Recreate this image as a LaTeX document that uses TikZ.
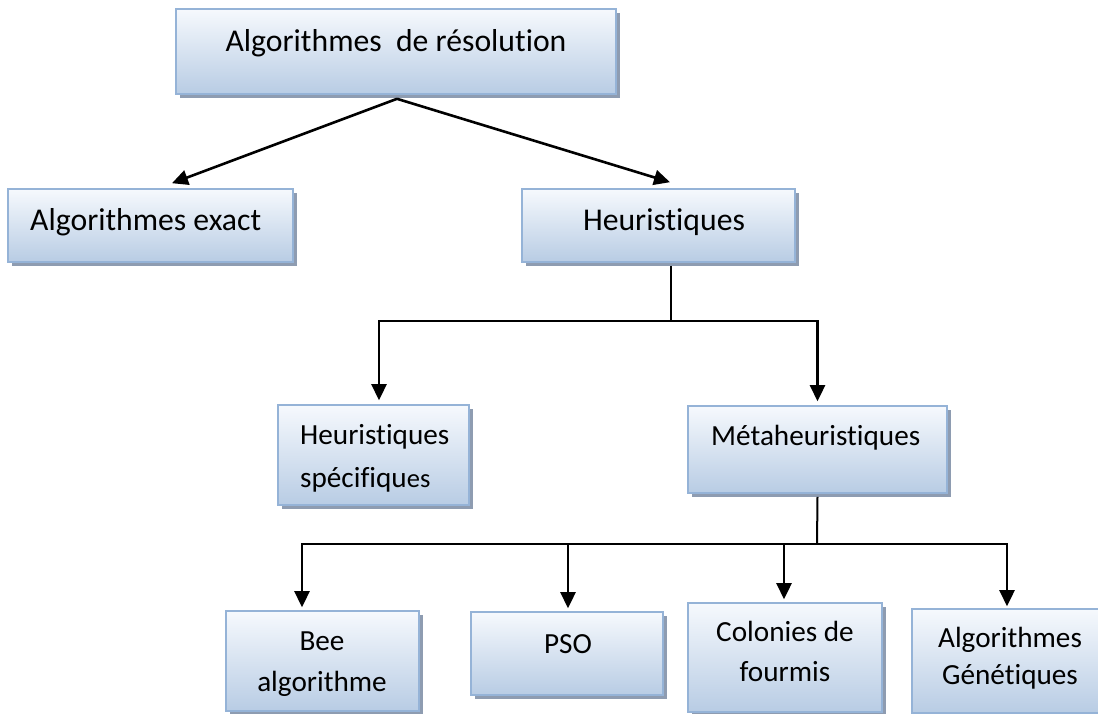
\documentclass[tikz,border=0pt]{standalone}
\usepackage{fontspec}
\setmainfont{Carlito}[RawFeature={-liga,-clig,-calt,-dlig}]
\usetikzlibrary{arrows.meta,shadows}

\definecolor{boxtop}{HTML}{F6F9FD}
\definecolor{boxbot}{HTML}{B8CCE4}
\definecolor{boxline}{HTML}{95B3D7}
\definecolor{boxshade}{HTML}{8E9CB1}

\tikzset{
  box/.style={rectangle, inner sep=0pt, draw=boxline, line width=1.6pt,
    top color=boxtop, bottom color=boxbot,
    drop shadow={shadow xshift=4pt, shadow yshift=-4pt, fill=boxshade, opacity=1}},
  big/.style={inner sep=0pt, font=\fontsize{31.7}{38}\selectfont},
  small/.style={inner sep=0pt, font=\fontsize{29.2}{35}\selectfont},
  stem/.style={line width=2pt},
  arr/.style={line width=2.6pt, -{Triangle[length=16pt,width=15pt]}},
}

\begin{document}
\begin{tikzpicture}[x=1pt, y=-1pt]
\useasboundingbox (0,0) rectangle (1098,713);
\fill[white] (0,0) rectangle (1098,713);

% boxes
\node[box, minimum width=440pt, minimum height=85pt] (root) at (396,51.5) {};
\node[box, minimum width=285pt, minimum height=73pt] (exact) at (150.5,225.5) {};
\node[box, minimum width=273pt, minimum height=73pt] (heur) at (658.5,225.5) {};
\node[box, minimum width=191pt, minimum height=100pt] (spec) at (373.5,455) {};
\node[box, minimum width=259pt, minimum height=87pt] (meta) at (817.5,449.5) {};
\node[box, minimum width=193pt, minimum height=100pt] (bee) at (322.5,661) {};
\node[box, minimum width=192pt, minimum height=83pt] (pso) at (567,653.5) {};
\node[box, minimum width=194pt, minimum height=109pt] (colo) at (785,657.5) {};
\node[box, minimum width=190pt, minimum height=104pt] (gene) at (1007,661) {};

% labels
\node[big, anchor=base] (troot) at (396,51) {Algorithmes\ \ de résolution};
\node[big, anchor=base west] (texact) at (30,230) {Algorithmes exact};
\node[big, anchor=base] (theur) at (664,230) {Heuristiques};
\node[small, anchor=base west] (tspecA) at (300,444) {Heuristiques};
\node[small, anchor=base west] (tspecB) at (300,487) {spécifiqu{\fontsize{26.5}{32}\selectfont es}};
\node[small, anchor=base west] (tmeta) at (711,445) {Métaheuristiques};
\node[small, anchor=base] (tbeeA) at (322,650) {Bee};
\node[small, anchor=base] (tbeeB) at (322,691) {algorithme};
\node[small, anchor=base] (tpso) at (568,653) {PSO};
\node[small, anchor=base] (tcoloA) at (785,641) {Colonies de};
\node[small, anchor=base] (tcoloB) at (785,681) {fourmis};
\node[small, anchor=base] (tgeneA) at (1010,647) {Algorithmes};
\node[small, anchor=base] (tgeneB) at (1010,684) {Génétiques};

% first level
\coordinate (apex) at ([xshift=1pt,yshift=-4pt]root.south);
\coordinate (exactTip) at ([xshift=21.5pt,yshift=5pt]exact.north);
\coordinate (heurTip) at ([xshift=11.5pt,yshift=6pt]heur.north);
\draw[arr] (apex) -- (exactTip);
\draw[arr] (apex) -- (heurTip);

% second level
\coordinate (heurStem) at ([xshift=12.5pt,yshift=-3pt]heur.south);
\coordinate (heurJoin) at (671,321);
\coordinate (specTip) at ([xshift=5.5pt,yshift=4pt]spec.north);
\coordinate (metaTip) at ([yshift=4pt]meta.north);
\draw[stem] (heurStem) -- (heurJoin);
\draw[arr] (heurJoin) -| (specTip);
\draw[arr] (heurJoin) -| (metaTip);

% third level
\coordinate (metaStem) at ([yshift=-3pt]meta.south);
\coordinate (metaJoin) at (817,544);
\coordinate (beeTip) at ([xshift=-20.5pt,yshift=3pt]bee.north);
\coordinate (psoTip) at ([xshift=1pt,yshift=3pt]pso.north);
\coordinate (coloTip) at ([xshift=-1pt,yshift=3pt]colo.north);
\coordinate (geneTip) at ([yshift=2pt]gene.north);
\draw[stem] (metaStem) -- (metaJoin);
\draw[arr] (metaJoin) -| (beeTip);
\draw[arr] (metaJoin) -| (geneTip);
\draw[arr] (metaJoin -| psoTip) -- (psoTip);
\draw[arr] (metaJoin -| coloTip) -- (coloTip);
\end{tikzpicture}
\end{document}
